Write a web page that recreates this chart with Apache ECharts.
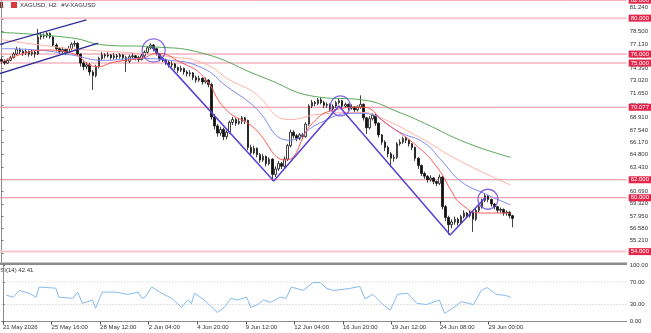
<!DOCTYPE html>
<html><head><meta charset="utf-8">
<script src="https://cdn.jsdelivr.net/npm/echarts@6/dist/echarts.min.js"></script>
<style>html,body{margin:0;padding:0;background:#fff}#c{width:651px;height:333px}</style>
</head><body><div id="c"></div>
<script>
// ---------- DATA ----------
const tickLabels = ["21 May 2026","25 May 16:00","28 May 12:00","2 Jun 04:00","4 Jun 20:00","9 Jun 12:00","12 Jun 04:00","16 Jun 20:00","19 Jun 12:00","24 Jun 08:00","29 Jun 00:00"];
const priceTicks = [53.84,55.21,56.58,57.95,59.32,60.69,62.06,63.43,64.80,66.17,67.54,68.91,70.28,71.65,73.02,74.39,75.76,77.13,78.50,79.87,81.24];
const levels = [82.000,80.000,76.000,75.000,70.077,62.000,60.000,54.000];
const rsiTicks = [0,30,70,100];
const rsiLevels = [30,70];
const titleText = "XAGUSD, H2:  #V-XAGUSD";
const rsiTitle = "RSI(14) 42.41";
// candles: [open, close, low, high]
const ohlc = [
[75.4,75.2,74.9,75.6],[75.2,75.0,74.8,75.4],[75.0,75.3,74.9,75.5],[75.3,75.6,75.2,75.8],[75.6,76.0,75.5,76.2],
[76.0,76.5,75.9,76.8],[76.5,76.3,76.0,76.7],[76.3,76.1,75.8,76.5],[76.1,76.3,75.9,76.6],[76.3,76.0,75.7,76.4],
[76.0,76.2,75.8,76.5],[76.2,76.0,75.6,76.4],[76.0,77.9,75.9,78.8],[77.9,78.1,77.6,78.4],[78.1,78.0,77.7,78.3],
[78.0,78.3,77.8,78.5],[78.3,77.9,77.7,78.4],[77.9,77.0,76.8,78.0],[77.0,76.6,76.3,77.2],[76.6,76.3,76.0,76.8],
[76.3,76.5,76.1,76.8],[76.5,76.2,75.9,76.6],[76.2,76.6,76.1,76.9],[76.6,77.1,76.4,77.3],[77.1,77.2,76.8,77.5],
[77.2,76.0,75.8,77.3],[76.0,75.0,74.6,76.1],[75.0,74.6,74.2,75.2],[74.6,74.8,74.3,75.1],[74.8,74.0,73.6,75.0],
[74.0,73.6,72.0,74.2],[73.6,74.6,73.4,74.8],[74.6,75.5,74.4,75.7],[75.5,75.9,75.3,76.2],[75.9,75.8,75.5,76.1],
[75.8,75.9,75.6,76.2],[75.9,75.6,75.4,76.0],[75.6,75.8,75.4,76.1],[75.8,75.7,75.4,76.0],[75.7,75.9,75.5,76.1],
[75.9,75.6,75.3,76.0],[75.6,75.2,74.0,75.8],[75.2,75.7,75.0,75.9],[75.7,75.8,75.5,76.1],[75.8,75.6,75.3,75.9],
[75.6,75.4,75.1,75.8],[75.4,75.8,75.3,76.0],[75.8,76.2,75.6,76.4],[76.2,76.7,76.0,76.9],[76.7,77.0,76.5,77.2],
[77.0,76.6,76.3,77.1],[76.6,76.0,75.8,76.7],[76.0,75.5,75.2,76.1],[75.5,75.4,75.1,75.7],[75.4,75.1,74.8,75.5],
[75.1,74.8,74.5,75.3],[74.8,74.9,74.5,75.2],[74.9,74.5,74.2,75.0],[74.5,74.2,73.9,74.6],[74.2,74.4,74.0,74.7],
[74.4,74.0,73.7,74.5],[74.0,73.8,73.5,74.2],[73.8,73.9,73.5,74.2],[73.9,73.4,73.1,74.0],[73.4,73.1,72.8,73.6],
[73.1,73.3,72.9,73.6],[73.3,72.9,72.6,73.4],[72.9,73.1,72.7,73.4],[73.1,72.6,72.3,73.2],[72.6,69.0,68.7,72.8],
[69.0,68.0,67.6,69.3],[68.0,67.2,66.8,68.2],[67.2,67.6,66.9,67.9],[67.6,66.8,66.4,67.8],[66.8,67.3,66.5,67.5],
[67.3,68.4,67.1,68.6],[68.4,68.7,68.1,69.0],[68.7,68.3,68.0,68.9],[68.3,68.5,68.1,68.8],[68.5,68.9,68.2,69.1],
[68.9,68.6,68.2,69.0],[68.6,65.6,65.3,68.7],[65.6,65.0,64.7,65.9],[65.0,65.5,64.8,65.8],[65.5,64.8,64.5,65.6],
[64.8,64.2,63.9,65.0],[64.2,64.6,64.0,64.9],[64.6,63.8,63.5,64.7],[63.8,64.3,63.6,64.5],[64.3,62.6,61.9,64.4],
[62.6,63.2,62.3,63.5],[63.2,63.8,63.0,64.1],[63.8,63.5,63.2,64.0],[63.5,64.3,63.3,64.6],[64.3,65.8,64.1,66.0],
[65.8,67.3,65.6,67.6],[67.3,66.9,66.6,67.5],[66.9,66.6,66.3,67.1],[66.6,67.0,66.4,67.2],[67.0,66.8,66.5,67.2],
[66.8,68.2,66.7,68.4],[68.2,70.2,68.0,70.4],[70.2,70.6,70.0,70.9],[70.6,70.5,70.2,70.8],[70.5,70.9,70.3,71.1],
[70.9,70.6,70.4,71.2],[70.6,70.3,70.0,70.8],[70.3,70.4,70.0,70.6],[70.4,69.9,69.6,70.5],[69.9,70.2,69.7,70.4],
[70.2,70.6,70.0,70.8],[70.6,70.8,70.4,71.0],[70.8,70.2,69.9,70.9],[70.2,70.4,70.0,70.6],[70.4,70.0,69.7,70.5],
[70.0,70.1,69.8,70.4],[70.1,69.8,69.5,70.2],[69.8,70.1,69.6,70.3],[70.1,70.4,69.9,71.4],[70.4,68.9,68.6,70.5],
[68.9,67.8,67.1,69.0],[67.8,68.8,67.6,69.1],[68.8,69.2,68.6,69.4],[69.2,68.3,68.0,69.3],[68.3,67.0,66.7,68.4],
[67.0,66.2,65.9,67.1],[66.2,65.6,65.2,66.4],[65.6,64.9,64.5,65.8],[64.9,64.4,63.4,65.1],[64.4,64.5,64.0,64.8],
[64.5,66.0,64.3,66.2],[66.0,66.2,65.8,66.5],[66.2,66.6,66.0,66.8],[66.6,66.4,66.1,66.8],[66.4,66.0,65.7,66.5],
[66.0,65.6,65.3,66.1],[65.6,64.4,64.1,65.7],[64.4,63.6,63.2,64.5],[63.6,62.7,62.4,63.7],[62.7,62.4,62.1,62.9],
[62.4,62.0,61.7,62.5],[62.0,62.2,61.8,62.5],[62.2,61.8,61.5,62.3],[61.8,61.6,61.3,61.9],[61.6,62.3,61.4,62.6],
[62.3,59.0,58.7,62.4],[59.0,57.8,57.4,59.2],[57.8,57.0,55.9,58.0],[57.0,57.3,56.6,57.6],[57.3,57.6,57.0,57.9],
[57.6,57.2,56.9,57.8],[57.2,57.9,57.0,58.1],[57.9,58.3,57.7,58.6],[58.3,58.0,57.7,58.4],[58.0,58.4,57.8,58.6],
[58.4,57.6,56.2,58.5],[57.6,58.6,57.4,58.8],[58.6,59.0,58.4,59.2],[59.0,59.7,58.8,59.9],[59.7,60.2,59.5,60.5],
[60.2,59.8,59.5,60.3],[59.8,59.3,59.0,59.9],[59.3,59.0,58.7,59.4],[59.0,58.6,58.3,59.1],[58.6,58.7,58.3,58.9],
[58.7,58.3,58.0,58.8],[58.3,58.4,58.0,58.6],[58.4,58.0,57.7,58.5],[58.0,57.7,56.7,58.1]
];
// moving averages: [bar index, price]
const maGreen = [[0,78.4],[23,77.8],[34,77.0],[50,76.8],[66,76.1],[86,73.4],[104.5,71.2],[118.5,70.9],[131.5,69.4],[139,68.3],[153,66.1],[167.4,64.5]];
const maSalmon = [[0,77.6],[17.4,76.8],[28.2,76.45],[44.5,76.1],[55.6,75.7],[66.3,75.0],[75.1,73.1],[82.6,71.8],[94.7,68.7],[104.5,69.3],[118.5,69.5],[124,69.0],[137,66.8],[150.1,64.2],[167.4,61.4]];
const maBlue = [[0,76.6],[11.9,76.45],[23,75.9],[33.7,75.3],[44.5,75.5],[55.6,75.3],[66.3,74.4],[74,72.4],[82.6,70.3],[94.7,66.4],[104.5,68.3],[115.2,69.4],[118.5,69.4],[131.5,67.2],[139,66.1],[144.5,64.2],[151.1,61.8],[158.6,60.5],[167.4,59.2]];
const maRed = [[0,75.1],[7.6,76.1],[14.2,76.45],[23,76.1],[31.4,74.6],[37,75.1],[46.8,75.6],[51,76.1],[58.8,75.1],[66.3,73.5],[73.8,69.8],[82.6,67.9],[93.4,64.2],[102.2,68.3],[109.7,69.8],[118.5,70.1],[126.3,68.3],[137.1,65.6],[143.6,63.2],[147.8,60.8],[151.1,59.3],[157.6,58.3],[167.4,58.3]];
// drawn objects: [bar index, price]
const channelUpper = [[-1,77.03],[27.9,79.80]];
const channelLower = [[-1,73.78],[31.8,77.23]];
const zigzag = [[49.4,76.8],[89.5,61.86],[110.9,70.22],[147.5,55.85],[159.2,60.08]];
const circles = [[50.0,76.40],[111.4,70.22],[159.9,59.83]];
// RSI(14): [bar index, value]
const rsi = [[1.1,46.5],[3.4,43],[5.4,55],[8.6,50],[10.9,43],[11.9,61],[17.4,59],[18.4,43],[23,41],[24.6,52],[26.2,32],[29.5,38],[30.5,23.5],[32.7,52],[37,52],[41.2,48],[44.5,52],[45.8,41],[46.8,43],[49,61],[52.3,50],[55.6,41],[58.8,25],[60.8,38],[62.1,32],[63.1,50],[66.3,38],[70.6,16],[72.9,25],[75.1,41],[77.1,38],[80.3,43],[81.6,25],[83.6,29],[85.9,38],[88.1,34],[91.4,43],[93.3,41],[95,61],[98.9,55],[102.2,69],[104.5,69],[106.5,59],[108.8,55],[113.7,58],[117.6,62],[119.3,40],[121.9,48],[125.2,30],[127.6,20],[130,48],[133.3,50],[136.4,32],[139.6,30],[143.8,38],[145.5,14],[147.8,22],[151.1,35],[155,30],[157.6,55],[159.5,60],[162.5,48],[165.7,46],[167.4,42.41]];

// ---------- LAYOUT / STYLE ----------
const NCAT = 206, LABEL_EVERY = 16;
const categories = [];
for (let i = 0; i < NCAT; i++) categories.push(i % LABEL_EVERY === 0 && tickLabels[i / LABEL_EVERY] ? tickLabels[i / LABEL_EVERY] : '');
const levelTone = ['m','l','m','l','m','m','m','l'];
const circleSizes = [23, 20, 20];
const FONT = 'Liberation Sans';
const txt = {fontFamily: FONT, fontSize: 6, color: '#333'};
const XMIN = -0.5, XMAX = NCAT - 0.5;

const chart = echarts.init(document.getElementById('c'), null, {renderer: 'canvas'});
const GL = -5, GR = 24;

const levelSeries = levels.map((v, i) => ({
  type: 'line', xAxisIndex: 2, yAxisIndex: 0, data: [[XMIN, v], [XMAX, v]], symbol: 'none', silent: true, z: 1,
  lineStyle: levelTone[i] === 'm' ? {color: '#ec8a9c', width: 1} : {color: '#f7c6cf', width: 2},
  endLabel: {show: true, distance: 2, formatter: () => v.toFixed(3), color: '#fff', backgroundColor: '#e3264a',
    padding: [1, 2, 0, 2], fontFamily: FONT, fontSize: 6}
}));
const rsiLevelSeries = rsiLevels.map(v => ({
  type: 'line', xAxisIndex: 3, yAxisIndex: 1, data: [[XMIN, v], [XMAX, v]], symbol: 'none', silent: true, z: 1,
  lineStyle: {color: '#c4c4c4', width: 1, type: [1, 2]}
}));

const option = {
  animation: false,
  backgroundColor: '#fff',
  grid: [
    {left: GL, right: GR, top: 0, height: 262},
    {left: GL, right: GR, top: 265, height: 56.5}
  ],
  xAxis: [
    {type: 'category', gridIndex: 0, data: categories, boundaryGap: true, show: false},
    {type: 'category', gridIndex: 1, data: categories, boundaryGap: true,
      axisLine: {show: true, lineStyle: {color: '#8c8c8c'}},
      axisTick: {show: true, alignWithLabel: true, length: 3, interval: (i, v) => v !== '', lineStyle: {color: '#555'}},
      axisLabel: Object.assign({interval: 0, align: 'left', margin: 3}, txt),
      splitLine: {show: false}},
    {type: 'value', gridIndex: 0, min: XMIN, max: XMAX, show: false, splitLine: {show: false}},
    {type: 'value', gridIndex: 1, min: XMIN, max: XMAX, show: false, splitLine: {show: false}}
  ],
  yAxis: [
    {type: 'value', gridIndex: 0, position: 'right', min: 81.24 - (262 - 7) / 8.98, max: 81.24 + 7 / 8.98,
      axisLine: {show: true, lineStyle: {color: '#8c8c8c'}},
      axisTick: {show: true, length: 2, customValues: priceTicks, lineStyle: {color: '#777'}},
      axisLabel: Object.assign({customValues: priceTicks, margin: 3, formatter: v => v.toFixed(3)}, txt),
      splitLine: {show: false}},
    {type: 'value', gridIndex: 1, position: 'right', min: 0, max: 100,
      axisLine: {show: true, lineStyle: {color: '#8c8c8c'}},
      axisTick: {show: true, length: 2, customValues: rsiTicks, lineStyle: {color: '#777'}},
      axisLabel: Object.assign({customValues: rsiTicks, margin: 3, formatter: v => v.toFixed(2)}, txt),
      splitLine: {show: false}}
  ],
  title: {text: titleText, left: 20, top: 2, padding: 0, textStyle: {fontFamily: FONT, fontSize: 6, color: '#333', fontWeight: 'normal'}},
  graphic: [
    {type: 'rect', left: 0, top: 2, shape: {width: 3, height: 6}, style: {fill: '#8a2a2a'}, silent: true},
    {type: 'rect', left: 11, top: 2, shape: {width: 6, height: 6}, style: {fill: '#d63a3a'}, silent: true},
    {type: 'rect', left: 0, top: 262.5, shape: {width: 627, height: 2.5}, style: {fill: '#8c8c8c'}, silent: true},
    {type: 'text', left: -4, top: 267, style: {text: rsiTitle, font: '6px "Liberation Sans"', fill: '#333'}, silent: true}
  ],
  series: levelSeries.concat(rsiLevelSeries, [
    {type: 'candlestick', xAxisIndex: 0, yAxisIndex: 0, data: ohlc, barWidth: 2, z: 3,
      itemStyle: {color: '#ffffff', color0: '#111', borderColor: '#111', borderColor0: '#111', borderWidth: 0.8}},
    {type: 'line', xAxisIndex: 2, yAxisIndex: 0, data: maGreen, smooth: true, symbol: 'none', z: 4, lineStyle: {color: '#5aa85a', width: 1}},
    {type: 'line', xAxisIndex: 2, yAxisIndex: 0, data: maSalmon, smooth: true, symbol: 'none', z: 4, lineStyle: {color: '#ffb3a6', width: 1}},
    {type: 'line', xAxisIndex: 2, yAxisIndex: 0, data: maBlue, smooth: true, symbol: 'none', z: 4, lineStyle: {color: '#8088f2', width: 1}},
    {type: 'line', xAxisIndex: 2, yAxisIndex: 0, data: maRed, smooth: true, symbol: 'none', z: 4, lineStyle: {color: '#ff5a55', width: 1}},
    {type: 'line', xAxisIndex: 2, yAxisIndex: 0, data: channelUpper, symbol: 'none', z: 5, lineStyle: {color: '#2c2c9c', width: 1.3}},
    {type: 'line', xAxisIndex: 2, yAxisIndex: 0, data: channelLower, symbol: 'none', z: 5, lineStyle: {color: '#2c2c9c', width: 1.3}},
    {type: 'line', xAxisIndex: 2, yAxisIndex: 0, data: zigzag, symbol: 'none', z: 5, lineStyle: {color: '#5b3fd6', width: 1.5}},
    {type: 'scatter', xAxisIndex: 2, yAxisIndex: 0, data: circles, symbol: 'circle', symbolSize: (v, p) => circleSizes[p.dataIndex], z: 5,
      itemStyle: {color: 'rgba(0,0,0,0)', borderColor: '#6a48d8', borderWidth: 1.3}, silent: true},
    {type: 'line', xAxisIndex: 3, yAxisIndex: 1, data: rsi, symbol: 'none', z: 4, lineStyle: {color: '#86bbef', width: 1}}
  ])
};
chart.setOption(option);
</script></body></html>
